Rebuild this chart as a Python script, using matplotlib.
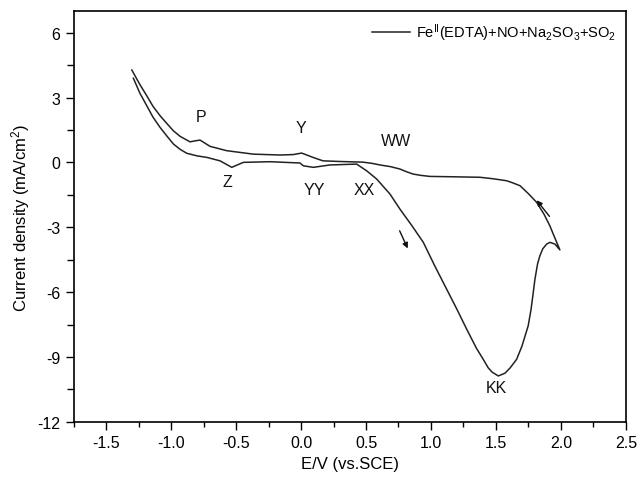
import matplotlib
matplotlib.use("Agg")
import matplotlib.pyplot as plt
from matplotlib.ticker import MultipleLocator

plt.rcParams['font.family'] = ['Liberation Sans', 'DejaVu Sans']
plt.rcParams['mathtext.fontset'] = 'custom'
plt.rcParams['mathtext.rm'] = 'Liberation Sans'
plt.rcParams['mathtext.it'] = 'Liberation Sans'

# forward scan (-1.3 V -> 2.0 V)
fwd_E = [-1.29, -1.24, -1.187, -1.14, -1.085, -1.03, -0.982, -0.93, -0.879, -0.8,
         -0.725, -0.623, -0.533, -0.444, -0.238,
         -0.008, 0.018, 0.095, 0.223, 0.428, 0.505, 0.582, 0.685, 0.762, 0.85, 0.941,
         1.03, 1.121, 1.2, 1.275, 1.35, 1.402, 1.44, 1.47, 1.518, 1.57, 1.61, 1.659,
         1.70, 1.748, 1.77, 1.787, 1.80, 1.82, 1.838, 1.86, 1.89,
         1.915, 1.954, 1.992]
fwd_I = [3.89, 3.2, 2.62, 2.1, 1.62, 1.2, 0.85, 0.6, 0.42, 0.3,
         0.23, 0.07, -0.23, 0.0, 0.03,
         -0.03, -0.16, -0.23, -0.12, -0.08, -0.39, -0.77, -1.47, -2.17, -2.9, -3.70,
         -4.8, -5.87, -6.8, -7.72, -8.6, -9.11, -9.5, -9.70, -9.88, -9.75, -9.5, -9.11,
         -8.5, -7.56, -6.8, -6.02, -5.4, -4.7, -4.32, -4.0, -3.78,
         -3.70, -3.78, -4.05]
# reverse scan (2.0 V -> -1.3 V)
rev_E = [1.992, 1.95, 1.915, 1.87, 1.813, 1.75, 1.685, 1.63, 1.582, 1.48, 1.377, 1.2,
         0.992, 0.92, 0.862, 0.81, 0.762, 0.69, 0.608, 0.55,
         0.477, 0.3, 0.169, 0.092, 0.005, -0.06, -0.161, -0.367, -0.572, -0.7, -0.777,
         -0.81, -0.854, -0.93, -0.982, -1.03, -1.085, -1.14, -1.187, -1.24, -1.302]
rev_I = [-4.05, -3.45, -2.94, -2.4, -1.85, -1.45, -1.08, -0.95, -0.85, -0.76, -0.69, -0.67,
         -0.65, -0.6, -0.54, -0.43, -0.31, -0.2, -0.12, -0.05,
         0.01, 0.04, 0.07, 0.23, 0.43, 0.36, 0.34, 0.38, 0.54, 0.74, 1.03,
         1.0, 0.95, 1.2, 1.46, 1.78, 2.16, 2.6, 3.08, 3.6, 4.27]

peak_labels = ['P', 'Y', 'WW', 'Z', 'YY', 'XX', 'KK']
peak_E = [-0.77, 0.0, 0.73, -0.57, 0.1, 0.49, 1.5]
peak_I = [2.1, 1.6, 1.0, -0.9, -1.25, -1.25, -10.4]

legend_label = r'Fe$^{\mathregular{II}}$(EDTA)+NO+Na$_{\mathregular{2}}$SO$_{\mathregular{3}}$+SO$_{\mathregular{2}}$'

fig = plt.figure(figsize=(6.4, 4.81), dpi=100)
ax = fig.add_axes([0.115, 0.121, 0.863, 0.854])

E_all = fwd_E + rev_E[1:]
I_all = fwd_I + rev_I[1:]
ax.plot(E_all, I_all, color='#222222', lw=1.1, label=legend_label)

for t, x, y in zip(peak_labels, peak_E, peak_I):
    ax.text(x, y, t, fontsize=11.5, ha='center', va='center', color='#111111')

# arrows
ax.annotate('', xy=(0.83, -4.1), xytext=(0.75, -3.05),
            arrowprops=dict(arrowstyle='-|>', color='#111111', lw=1.0, mutation_scale=8))
ax.annotate('', xy=(1.80, -1.65), xytext=(1.925, -2.6),
            arrowprops=dict(arrowstyle='-|>', color='#111111', lw=1.0, mutation_scale=8))

ax.set_xlim(-1.75, 2.5)
ax.set_ylim(-12, 7)
ax.xaxis.set_major_locator(MultipleLocator(0.5))
ax.xaxis.set_minor_locator(MultipleLocator(0.25))
ax.yaxis.set_major_locator(MultipleLocator(3))
ax.yaxis.set_minor_locator(MultipleLocator(1.5))
ax.xaxis.set_major_formatter(plt.FuncFormatter(lambda v, p: f'{v:.1f}'))
ax.yaxis.set_major_formatter(plt.FuncFormatter(lambda v, p: f'{int(round(v))}'))
ax.tick_params(axis='both', which='major', direction='out', length=6, width=1, labelsize=11.5)
ax.tick_params(axis='x', which='minor', direction='out', length=3.5, width=1)
ax.tick_params(axis='y', which='minor', direction='out', length=5, width=1)
for s in ax.spines.values():
    s.set_linewidth(1.2)

ax.set_xlabel('E/V (vs.SCE)', fontsize=12, labelpad=4)
ax.set_ylabel(r'Current density (mA/cm$^{\mathregular{2}}$)', fontsize=12, labelpad=4)

ax.legend(loc='upper right', frameon=False, fontsize=10.5, handlelength=2.6,
          handletextpad=0.4, borderaxespad=0.3)

fig.savefig('out.png', dpi=100)
